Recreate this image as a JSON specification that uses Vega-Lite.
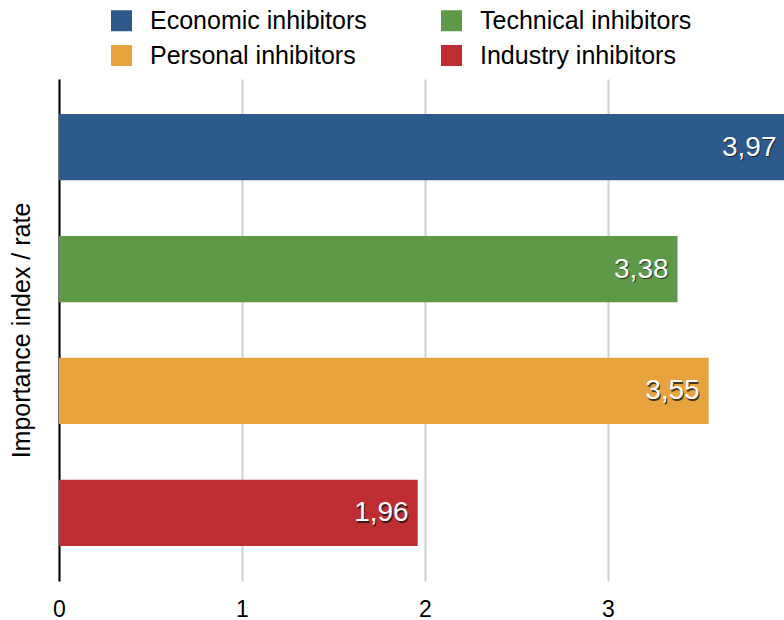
{
  "$schema": "https://vega.github.io/schema/vega-lite/v6.json",
  "width": 732,
  "height": 502,
  "autosize": {"type": "none"},
  "padding": {"left": 59, "top": 79, "right": -7, "bottom": 39},
  "config": {
    "font": "Liberation Sans",
    "view": {"stroke": null},
    "locale": {
      "number": {"decimal": ",", "thousands": ".", "grouping": [3], "currency": ["", " €"]}
    }
  },
  "data": {
    "values": [
      {"category": "Economic inhibitors", "value": 3.97},
      {"category": "Technical inhibitors", "value": 3.38},
      {"category": "Personal inhibitors", "value": 3.55},
      {"category": "Industry inhibitors", "value": 1.96}
    ]
  },
  "encoding": {
    "y": {
      "field": "category",
      "type": "nominal",
      "sort": ["Economic inhibitors", "Technical inhibitors", "Personal inhibitors", "Industry inhibitors"],
      "scale": {"paddingInner": 0.457, "paddingOuter": 0.288},
      "axis": {
        "title": "Importance index / rate",
        "titleFontSize": 25,
        "titleFontWeight": "normal",
        "titleColor": "#000",
        "titlePadding": 25,
        "labels": false,
        "ticks": false,
        "grid": false,
        "domainColor": "#000",
        "domainWidth": 2
      }
    },
    "x": {
      "field": "value",
      "type": "quantitative",
      "scale": {"domain": [0, 4], "nice": false},
      "axis": {
        "title": null,
        "values": [0, 1, 2, 3, 4],
        "domain": false,
        "ticks": false,
        "labelFontSize": 23,
        "labelColor": "#000",
        "labelPadding": 17,
        "labelFlush": false,
        "labelBound": false,
        "gridColor": "#d0d0d0",
        "gridWidth": 2
      }
    }
  },
  "layer": [
    {
      "mark": {"type": "bar"},
      "encoding": {
        "color": {
          "field": "category",
          "type": "nominal",
          "scale": {
            "domain": ["Economic inhibitors", "Technical inhibitors", "Personal inhibitors", "Industry inhibitors"],
            "range": ["#2E5A8B", "#5E9948", "#E8A33E", "#BD2D32"]
          },
          "legend": {
            "title": null,
            "orient": "none",
            "legendX": 50,
            "legendY": -71,
            "direction": "horizontal",
            "columns": 2,
            "symbolType": "square",
            "symbolSize": 441,
            "symbolStrokeWidth": 0,
            "labelFontSize": 25,
            "labelColor": "#000",
            "labelOffset": 16,
            "columnPadding": 72,
            "rowPadding": 9,
            "labelLimit": 400
          }
        }
      }
    },
    {
      "mark": {"type": "text", "align": "right", "baseline": "middle", "dx": -8, "dy": 2, "fontSize": 28, "color": "#111111", "opacity": 0.75},
      "encoding": {"text": {"field": "value", "type": "quantitative", "format": ".2f"}}
    },
    {
      "mark": {"type": "text", "align": "right", "baseline": "middle", "dx": -9, "dy": 0.5, "fontSize": 28, "color": "#ffffff"},
      "encoding": {"text": {"field": "value", "type": "quantitative", "format": ".2f"}}
    }
  ]
}
